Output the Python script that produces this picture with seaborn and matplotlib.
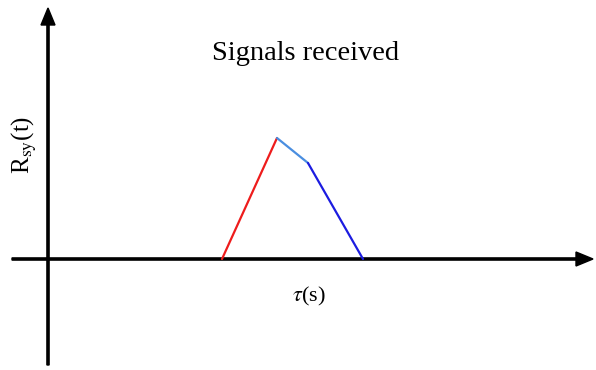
import matplotlib
matplotlib.use("Agg")
import matplotlib.pyplot as plt
import seaborn as sns
import pandas as pd

# Correlation peak: rising edge, short decay, falling edge
segment_names = ["rise", "decay", "fall"]
tau_start = [174, 229, 260]
tau_end = [229, 260, 315]
r_start = [0, 121, 96]
r_end = [121, 96, 0]
segment_colors = ["#ee1c1c", "#4a8ee0", "#1c1ce0"]

rows = []
for name, t0, t1, r0, r1 in zip(segment_names, tau_start, tau_end, r_start, r_end):
    rows.append({"segment": name, "tau": t0, "R": r0})
    rows.append({"segment": name, "tau": t1, "R": r1})
df = pd.DataFrame(rows)

sns.set_style("white")
plt.rcParams["font.family"] = ["Liberation Serif", "DejaVu Serif"]
plt.rcParams["mathtext.fontset"] = "stix"

fig = plt.figure(figsize=(5.96, 3.70), dpi=100)
ax = fig.add_axes([0, 0, 1, 1])
ax.set_xlim(-48, 548)
ax.set_ylim(-111, 259)
ax.axis("off")

# Axes drawn as arrows through the origin
ax.arrow(-36, 0, 581, 0, width=2.2, head_width=14, head_length=17,
         length_includes_head=True, color="black", zorder=2)
ax.arrow(0, -106, 0, 357, width=2.2, head_width=14, head_length=17,
         length_includes_head=True, color="black", zorder=2)

sns.lineplot(data=df, x="tau", y="R", hue="segment", palette=segment_colors,
             hue_order=segment_names, sort=False, estimator=None,
             linewidth=1.6, legend=False, ax=ax, zorder=3)

ax.text(258, 205, "Signals received", fontsize=20.5, ha="center",
        va="center", color="black")
ax.text(261, -37, r"$\tau$(s)", fontsize=16, ha="center", va="center",
        color="black")
ax.text(-24, 114, r"R$_{\rm sy}$(t)", fontsize=18, ha="center", va="center",
        rotation=90, color="black")

fig.savefig("out.png", dpi=100)
